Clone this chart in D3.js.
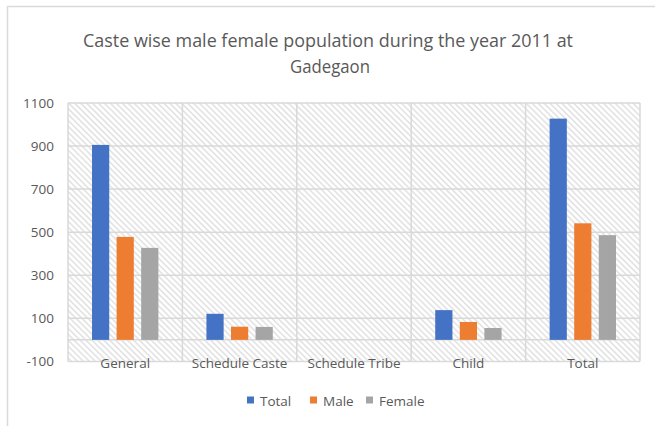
<!DOCTYPE html>
<html>
<head>
<meta charset="utf-8">
<script src="https://cdn.jsdelivr.net/npm/d3@7"></script>
<style>
  html, body { margin: 0; padding: 0; background: #fff; }
  svg { display: block; }
  text { font-family: "Open Sans", "Noto Sans", sans-serif; fill: #595959; }
</style>
</head>
<body>
<script>
const categories = ["General", "Schedule Caste", "Schedule Tribe", "Child", "Total"];
const series = ["Total", "Male", "Female"];
const totalValues = [905, 121, 0, 138, 1027];
const maleValues = [478, 61, 0, 83, 541];
const femaleValues = [427, 60, 0, 55, 486];
const yTicks = [-100, 100, 300, 500, 700, 900, 1100];
const titleLines = ["Caste wise male female population during the year 2011 at", "Gadegaon"];
const colors = ["#4472c4", "#ed7d31", "#a5a5a5"];

const valuesBySeries = [totalValues, maleValues, femaleValues];
const W = 655, H = 426;
const plot = { left: 68, right: 640, top: 102.9, bottom: 361.4 };

const svg = d3.select("body").append("svg").attr("width", W).attr("height", H);

// hatch pattern
const defs = svg.append("defs");
const pat = defs.append("pattern")
  .attr("id", "hatch").attr("patternUnits", "userSpaceOnUse")
  .attr("width", 4.2).attr("height", 4.2)
  .attr("patternTransform", "rotate(-45)");
pat.append("rect").attr("width", 4.2).attr("height", 4.2).attr("fill", "#ffffff");
pat.append("rect").attr("x", 0).attr("y", 0).attr("width", 1.7).attr("height", 4.2).attr("fill", "#e4e4e4");

// chart border
svg.append("rect").attr("x", 7.5).attr("y", 6.5).attr("width", W + 10).attr("height", H + 10)
  .attr("fill", "none").attr("stroke", "#d9d9d9").attr("stroke-width", 1.5);

// title
svg.append("text").attr("x", 328).attr("y", 47).attr("text-anchor", "middle")
  .attr("font-size", 19).attr("textLength", 490).attr("lengthAdjust", "spacingAndGlyphs")
  .text(titleLines[0]);
svg.append("text").attr("x", 330).attr("y", 73).attr("text-anchor", "middle")
  .attr("font-size", 19).attr("textLength", 80).attr("lengthAdjust", "spacingAndGlyphs")
  .text(titleLines[1]);

const x0 = d3.scaleBand().domain(categories).range([plot.left, plot.right]).padding(0);
const groupW = x0.bandwidth() * 0.58;
const x1 = d3.scaleBand().domain(series).range([0, groupW]).paddingInner(0.3).paddingOuter(0);
const y = d3.scaleLinear().domain([-100, 1100]).range([plot.bottom, plot.top]);

// plot background
svg.append("rect").attr("x", plot.left).attr("y", plot.top)
  .attr("width", plot.right - plot.left).attr("height", plot.bottom - plot.top)
  .attr("fill", "url(#hatch)");

// horizontal gridlines
svg.append("g").selectAll("line").data(yTicks.concat([0])).join("line")
  .attr("x1", plot.left).attr("x2", plot.right)
  .attr("y1", d => y(d)).attr("y2", d => y(d))
  .attr("stroke", "#d9d9d9").attr("stroke-width", 1.5);

// vertical gridlines at category boundaries
const bounds = categories.map(c => x0(c)).concat([plot.right]);
svg.append("g").selectAll("line").data(bounds).join("line")
  .attr("x1", d => d).attr("x2", d => d)
  .attr("y1", plot.top).attr("y2", plot.bottom)
  .attr("stroke", "#d9d9d9").attr("stroke-width", 1.5);

// y axis labels
const yAxis = d3.axisLeft(y).tickValues(yTicks).tickSize(0).tickPadding(0).tickFormat(d => String(d));
const gy = svg.append("g").attr("transform", "translate(54,0)").call(yAxis);
gy.select(".domain").remove();
gy.selectAll("text").attr("font-size", 13.5).attr("fill", "#595959")
  .style("font-family", "'Open Sans', sans-serif");

// bars
const groups = svg.append("g").selectAll("g").data(categories).join("g")
  .attr("transform", c => `translate(${x0(c) + (x0.bandwidth() - groupW) / 2},0)`);
groups.selectAll("rect").data((c, i) => series.map((s, j) => ({ s, j, v: valuesBySeries[j][i] })))
  .join("rect")
  .attr("x", d => x1(d.s)).attr("width", x1.bandwidth())
  .attr("y", d => y(Math.max(0, d.v))).attr("height", d => Math.abs(y(d.v) - y(0)))
  .attr("fill", d => colors[d.j]);

// category labels
const xAxis = d3.axisBottom(x0).tickSize(0).tickPadding(0);
const gx = svg.append("g").attr("transform", `translate(0,${y(0) + 28})`).call(xAxis);
gx.select(".domain").remove();
gx.selectAll("text").attr("font-size", 13.5).attr("fill", "#595959").attr("dy", 0)
  .style("font-family", "'Open Sans', sans-serif");

// legend
const legendItems = [
  { name: series[0], x: 247 },
  { name: series[1], x: 310 },
  { name: series[2], x: 366 }
];
const lg = svg.append("g").selectAll("g").data(legendItems).join("g")
  .attr("transform", d => `translate(${d.x},0)`);
lg.append("rect").attr("x", 0).attr("y", 396.5).attr("width", 7).attr("height", 7)
  .attr("fill", (d, i) => colors[i]);
lg.append("text").attr("x", 13).attr("y", 405.5).attr("font-size", 13.5).text(d => d.name);
</script>
</body>
</html>
